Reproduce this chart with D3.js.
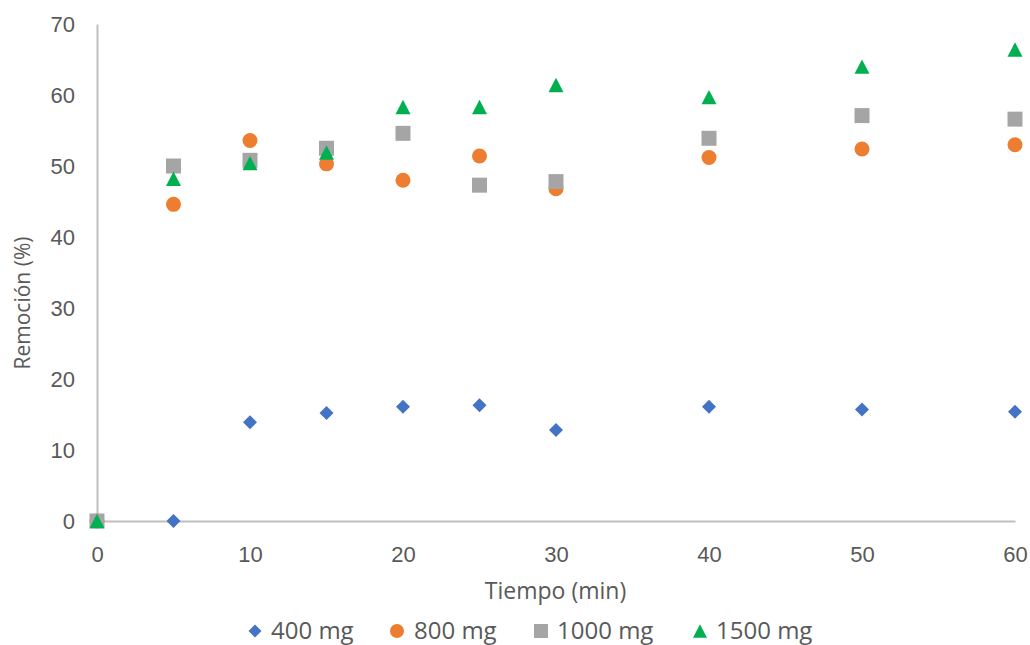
<!DOCTYPE html>
<html>
<head>
<meta charset="utf-8">
<script src="https://cdn.jsdelivr.net/npm/d3@7/dist/d3.min.js"></script>
<style>
  html, body { margin: 0; padding: 0; background: #fff; }
  svg { display: block; font-family: "Open Sans", "Noto Sans", sans-serif; }
</style>
</head>
<body>
<svg id="chart" width="1030" height="645"></svg>
<script>
// Sampling times (min)
const tiempos = [0, 5, 10, 15, 20, 25, 30, 40, 50, 60];

// Removal (%) for each adsorbent dose
const remocion400 = [0, 0, 13.9, 15.2, 16.1, 16.3, 12.8, 16.1, 15.7, 15.4];
const remocion800 = [0, 44.6, 53.6, 50.3, 48.0, 51.4, 46.8, 51.2, 52.4, 53.0];
const remocion1000 = [0, 50.0, 50.8, 52.5, 54.6, 47.3, 47.8, 53.9, 57.1, 56.6];
const remocion1500 = [0, 48.2, 50.4, 51.9, 58.3, 58.3, 61.4, 59.7, 64.0, 66.4];

const seriesNames = ["400 mg", "800 mg", "1000 mg", "1500 mg"];
const xTicks = [0, 10, 20, 30, 40, 50, 60];
const yTicks = [0, 10, 20, 30, 40, 50, 60, 70];

// Marker shapes drawn centred on their bounding box; w = width in px
const shapes = {
  diamond: w => `M0,${-w / 2}L${w / 2},0L0,${w / 2}L${-w / 2},0Z`,
  circle: w => d3.arc()({ innerRadius: 0, outerRadius: w / 2, startAngle: 0, endAngle: 2 * Math.PI }),
  square: w => `M${-w / 2},${-w / 2}h${w}v${w}h${-w}Z`,
  triangle: w => `M0,${-w * 0.48}L${w / 2},${w * 0.48}L${-w / 2},${w * 0.48}Z`
};

const series = [
  { name: seriesNames[0], values: remocion400, color: "#4472C4", shape: "diamond", w: 14 },
  { name: seriesNames[1], values: remocion800, color: "#ED7D31", shape: "circle", w: 15 },
  { name: seriesNames[2], values: remocion1000, color: "#A5A5A5", shape: "square", w: 15 },
  { name: seriesNames[3], values: remocion1500, color: "#00B050", shape: "triangle", w: 15 }
];

const svg = d3.select("#chart");
const plot = { left: 97, right: 1015, top: 24, bottom: 521 };

const x = d3.scaleLinear().domain([0, 60]).range([plot.left, plot.right]);
const y = d3.scaleLinear().domain([0, 70]).range([plot.bottom, plot.top]);

const textColor = "#595959";
const axisColor = "#BFBFBF";

// X axis
const xAxis = svg.append("g")
  .attr("transform", `translate(0,${plot.bottom})`)
  .call(d3.axisBottom(x).tickValues(xTicks).tickSize(0).tickPadding(25).tickFormat(d3.format("d")));
xAxis.select(".domain").attr("stroke", axisColor).attr("stroke-width", 2);
xAxis.selectAll("text").attr("fill", textColor).style("font-size", "22px");

// Y axis
const yAxis = svg.append("g")
  .attr("transform", `translate(${plot.left},0)`)
  .call(d3.axisLeft(y).tickValues(yTicks).tickSize(0).tickPadding(22).tickFormat(d3.format("d")));
yAxis.select(".domain").attr("stroke", axisColor).attr("stroke-width", 2);
yAxis.selectAll("text").attr("fill", textColor).style("font-size", "22px");

// Axis titles
svg.append("text")
  .attr("x", 555.5).attr("y", 599)
  .attr("text-anchor", "middle")
  .attr("fill", textColor)
  .style("font-size", "23px")
  .text("Tiempo (min)");

svg.append("text")
  .attr("transform", "translate(30,303) rotate(-90)")
  .attr("text-anchor", "middle")
  .attr("fill", textColor)
  .style("font-size", "21px")
  .text("Remoción (%)");

// Markers
series.forEach(s => {
  svg.append("g")
    .selectAll("path")
    .data(tiempos.map((t, i) => ({ t, v: s.values[i] })))
    .join("path")
    .attr("d", shapes[s.shape](s.w))
    .attr("transform", d => `translate(${x(d.t)},${y(d.v)})`)
    .attr("fill", s.color);
});

// Legend
const legendPos = [
  { sx: 255, tx: 271 },
  { sx: 397, tx: 414 },
  { sx: 541, tx: 557 },
  { sx: 700, tx: 716 }
];
const legendBaseline = 639;
series.forEach((s, i) => {
  svg.append("path")
    .attr("d", shapes[s.shape](s.w - 1))
    .attr("transform", `translate(${legendPos[i].sx},${legendBaseline - 8})`)
    .attr("fill", s.color);
  svg.append("text")
    .attr("x", legendPos[i].tx)
    .attr("y", legendBaseline)
    .attr("fill", textColor)
    .style("font-size", "24px")
    .text(s.name);
});
</script>
</body>
</html>
